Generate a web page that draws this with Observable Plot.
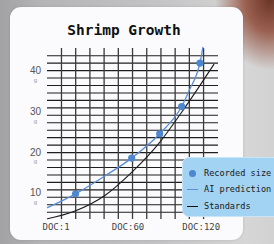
<!DOCTYPE html>
<html><head><meta charset="utf-8">
<script src="https://cdn.jsdelivr.net/npm/d3@7"></script>
<script src="https://cdn.jsdelivr.net/npm/@observablehq/plot@0.6"></script>
<style>
html,body{margin:0;padding:0;width:274px;height:244px;overflow:hidden;}
body{position:relative;
 background:
  radial-gradient(ellipse 55px 70px at 270px 0px, #6a3528 0%, #9a6050 45%, rgba(205,180,172,0.0) 100%),
  linear-gradient(90deg, #a2a2a4 0px, #b4b4b6 40px, #c4c4c6 160px, #d6d6d6 245px, #d2d2d2 274px);}
#card{position:absolute;left:10px;top:7px;width:233px;height:233px;background:#fbfbfd;border-radius:11px;box-shadow:0 0 3px rgba(0,0,0,0.12);}
#title{position:absolute;left:0;width:248px;top:22px;line-height:20px;text-align:center;font:bold 14.5px "DejaVu Sans Mono",monospace;color:#111;}
#chart{position:absolute;left:0;top:0;}
#legend{position:absolute;left:182px;top:157px;width:110px;height:60px;background:#a2d3f2;border-radius:7px;border:1px solid #c9e6f8;box-sizing:border-box;font:8.6px "DejaVu Sans Mono",monospace;color:#1a1a1a;}
.row{position:absolute;left:0;height:12px;line-height:12px;}
.row span{position:absolute;left:21px;white-space:nowrap;}
.sym{position:absolute;}
</style>
</head><body>
<div id="card"></div>
<div id="chart"></div>
<div id="title">Shrimp Growth</div>
<div id="legend"></div>
<script>
// Recorded sizes (day of culture, grams)
const recordedDay = [17, 63, 86, 104, 119];
const recordedWeight = [9.8, 18.6, 24.6, 31.3, 42.0];
// AI prediction curve
const predDay = [-6, 17, 41, 63, 86, 104, 111, 116, 119, 121.4];
const predWeight = [6.4, 9.8, 14.2, 18.6, 24.6, 31.3, 35.8, 39.0, 42.0, 45.9];
// Standards curve
const stdDay = [-6, 16, 41, 63, 86, 104, 130.4];
const stdWeight = [3.65, 5.5, 9.4, 15.1, 22.5, 29.9, 41.7];
// tick labels
const xTicks = [1, 60, 120];
const xTickLabels = ["DOC:1", "DOC:60", "DOC:120"];
const yTicks = [10, 20, 30, 40];
const yUnit = "g";
const seriesNames = ["Recorded size", "AI prediction", "Standards"];

const recorded = recordedDay.map((d, i) => ({day: d, w: recordedWeight[i]}));
const pred = predDay.map((d, i) => ({day: d, w: predWeight[i]}));
const std = stdDay.map((d, i) => ({day: d, w: stdWeight[i]}));

// decorative graph-paper grid
const gridCols = d3.range(11).map(i => 5.46 + i * 11.65);
const gridRows = d3.range(22).map(i => 5.275 + i * 1.836);

const mono = "DejaVu Sans Mono, monospace";
const sans = "Liberation Sans, Arial, sans-serif";
const blue = "#4c87cf";

const chart = Plot.plot({
  width: 274, height: 244,
  marginLeft: 47, marginRight: 56, marginTop: 48, marginBottom: 25,
  x: {domain: [-6.0, 134.2], axis: null},
  y: {domain: [3.48, 45.6], axis: null},
  style: {background: "transparent", overflow: "visible"},
  marks: [
    Plot.ruleY(gridRows, {stroke: "#1e1e1e", strokeWidth: 1.1}),
    Plot.ruleX(gridCols, {stroke: "#3a3a3a", strokeWidth: 1.3}),
    Plot.line(std, {x: "day", y: "w", stroke: "#1a1a1a", strokeWidth: 1.1, curve: "monotone-x"}),
    Plot.line(pred, {x: "day", y: "w", stroke: "#5a8fd8", strokeWidth: 1.3, curve: "monotone-x"}),
    Plot.dot(recorded, {x: "day", y: "w", r: 3.6, fill: blue}),
    Plot.text(yTicks, {y: d => d, frameAnchor: "left", dx: -12, text: d => String(d), fontSize: 10, fill: "#555", textAnchor: "middle", fontFamily: sans}),
    Plot.text(yTicks, {y: d => d, frameAnchor: "left", dx: -12, dy: 9, text: () => yUnit, fontSize: 6, fill: "#999", textAnchor: "middle", fontFamily: sans}),
    Plot.text(xTicks, {x: d => d, frameAnchor: "bottom", dy: 10, text: (d, i) => xTickLabels[i], fontSize: 9, fill: "#444", textAnchor: "middle", fontFamily: mono})
  ]
});
document.getElementById("chart").appendChild(chart);

const leg = document.getElementById("legend");
const rowsY = [9, 25, 42];
seriesNames.forEach((name, i) => {
  const row = document.createElement("div");
  row.className = "row";
  row.style.top = rowsY[i] + "px";
  const sym = document.createElement("div");
  sym.className = "sym";
  if (i === 0) {
    Object.assign(sym.style, {left: "6px", top: "2.5px", width: "7px", height: "7px", borderRadius: "50%", background: blue});
  } else {
    Object.assign(sym.style, {left: "4px", top: "5.5px", width: "11px", height: "1.2px", background: i === 1 ? "#5a8fd8" : "#111"});
  }
  row.appendChild(sym);
  const t = document.createElement("span");
  t.textContent = name;
  row.appendChild(t);
  leg.appendChild(row);
});
</script>
</body></html>
